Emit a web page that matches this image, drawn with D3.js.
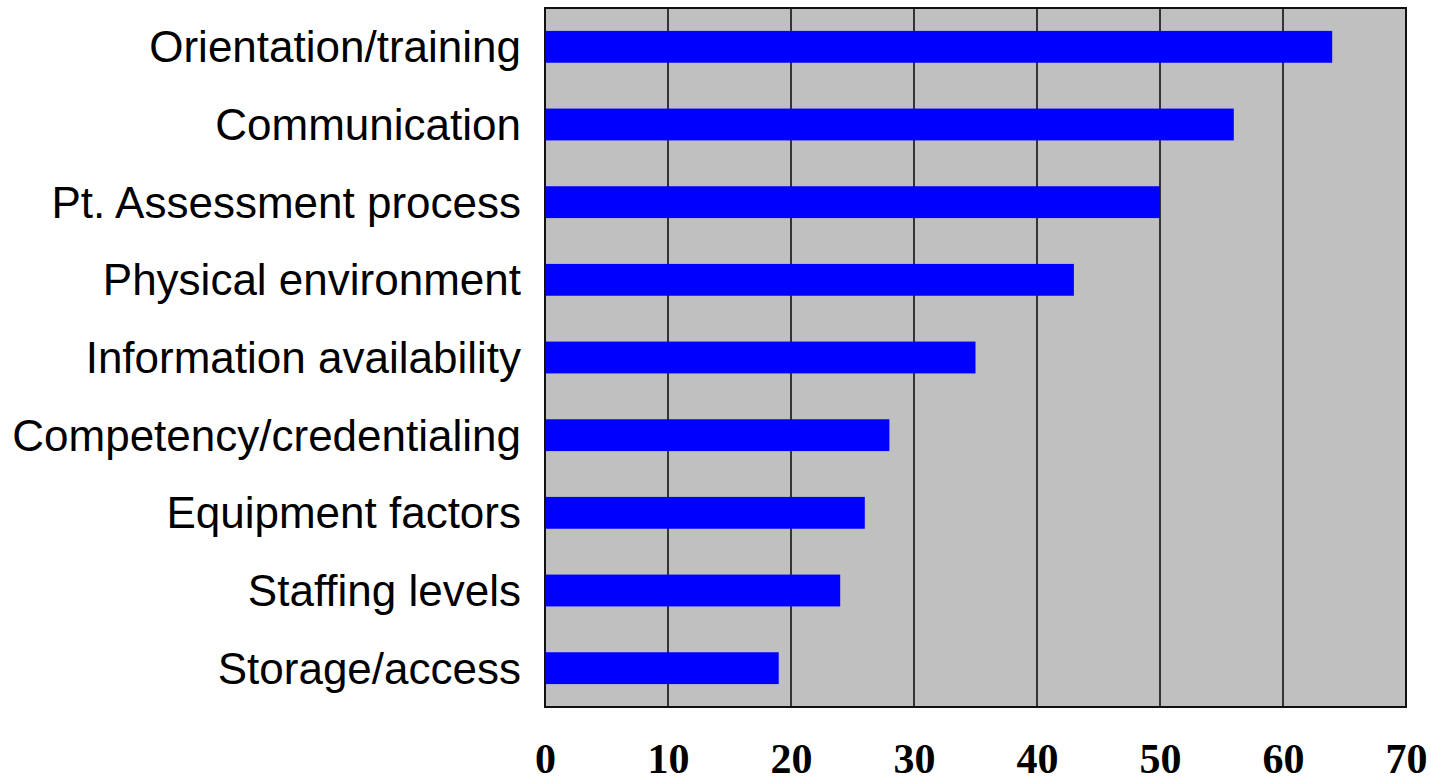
<!DOCTYPE html>
<html>
<head>
<meta charset="utf-8">
<script src="https://cdn.jsdelivr.net/npm/d3@7"></script>
<style>
html,body{margin:0;padding:0;background:#fff;}
svg{display:block;}
</style>
</head>
<body>
<svg id="chart" width="1431" height="783"></svg>
<script>
const categories = ["Orientation/training","Communication","Pt. Assessment process","Physical environment","Information availability","Competency/credentialing","Equipment factors","Staffing levels","Storage/access"];
const values = [64,56,50,43,35,28,26,24,19];
const tickValues = [0,10,20,30,40,50,60,70];

const svg = d3.select("#chart");
const plotLeft = 545, plotRight = 1406, plotTop = 8, plotBottom = 707;

const x = d3.scaleLinear().domain([0,70]).range([plotLeft,plotRight]);
const y = d3.scaleBand().domain(categories).range([plotTop,plotBottom]).paddingInner(0.59).paddingOuter(0.295);

svg.append("rect").attr("x",plotLeft).attr("y",plotTop).attr("width",plotRight-plotLeft).attr("height",plotBottom-plotTop).attr("fill","#c0c0c0");

svg.append("g").selectAll("line").data(tickValues.slice(1,-1)).join("line")
  .attr("x1",d=>x(d)).attr("x2",d=>x(d)).attr("y1",plotTop).attr("y2",plotBottom)
  .attr("stroke","#111").attr("stroke-width",1.6);

svg.append("g").selectAll("rect").data(categories).join("rect")
  .attr("x",x(0)).attr("y",d=>y(d))
  .attr("width",(d,i)=>x(values[i])-x(0)).attr("height",y.bandwidth())
  .attr("fill","#0000ff");

svg.append("rect").attr("x",plotLeft).attr("y",plotTop).attr("width",plotRight-plotLeft).attr("height",plotBottom-plotTop)
  .attr("fill","none").attr("stroke","#111").attr("stroke-width",2);

svg.append("g").selectAll("text").data(categories).join("text")
  .attr("x",plotLeft-24).attr("y",d=>y(d)+y.bandwidth()/2)
  .attr("text-anchor","end").attr("dominant-baseline","central")
  .attr("font-family","Liberation Sans, Arial, sans-serif").attr("font-size",44)
  .attr("fill","#000").text(d=>d);

const xAxis = d3.axisBottom(x).tickValues(tickValues).tickSize(0).tickPadding(0);
const gx = svg.append("g").attr("transform",`translate(0,${plotBottom})`).call(xAxis);
gx.select(".domain").remove();
gx.selectAll("text").attr("y",66).attr("dy",0)
  .attr("font-family","Liberation Serif, Times New Roman, serif").attr("font-weight","bold")
  .attr("font-size",42).attr("fill","#000");
</script>
</body>
</html>
